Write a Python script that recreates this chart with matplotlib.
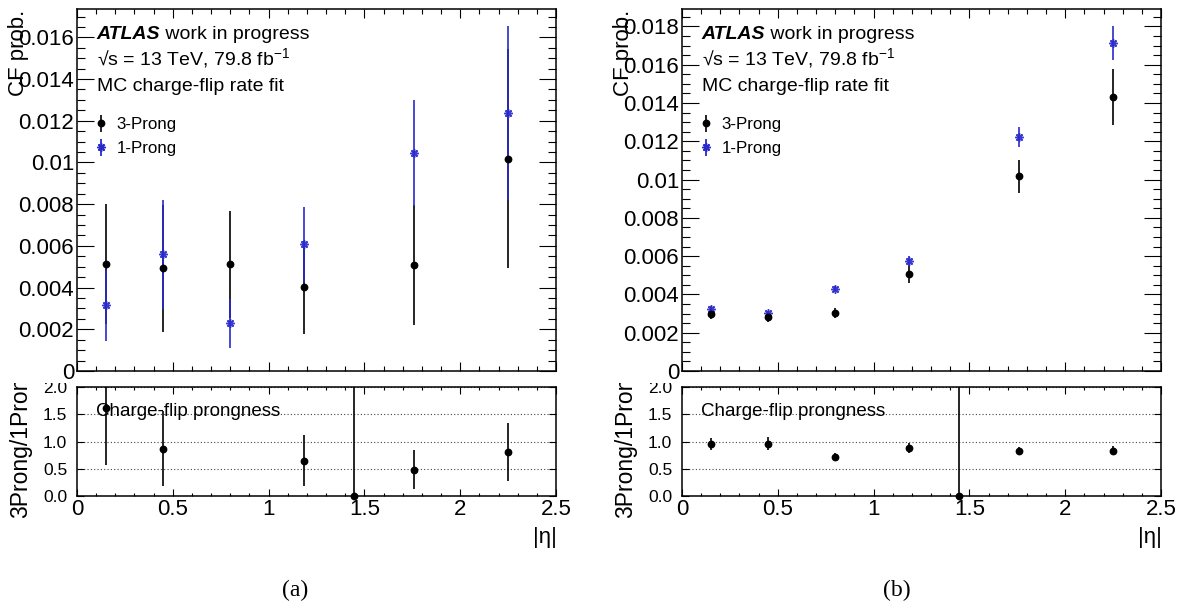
import numpy as np
import matplotlib
matplotlib.use("Agg")
import matplotlib.pyplot as plt
from matplotlib.ticker import FixedLocator, MultipleLocator, FuncFormatter
from matplotlib.transforms import Bbox
from matplotlib.lines import Line2D

plt.rcParams['font.family'] = ['Liberation Sans', 'DejaVu Sans']
plt.rcParams['mathtext.fontset'] = 'custom'
plt.rcParams['mathtext.rm'] = 'Liberation Sans'
plt.rcParams['mathtext.it'] = 'Liberation Sans:italic'
plt.rcParams['mathtext.bf'] = 'Liberation Sans:bold'

nan = np.nan
# |eta| bin centres
eta_centers = [0.15, 0.45, 0.80, 1.185, 1.445, 1.76, 2.25]

# panel (a)
a_3prong = [0.00514, 0.00492, 0.00511, 0.00401, nan, 0.00508, 0.01019]
a_3prong_err = [0.00289, 0.00304, 0.00256, 0.00224, nan, 0.00288, 0.00527]
a_1prong = [0.00315, 0.00559, 0.00228, 0.00607, nan, 0.01046, 0.01237]
a_1prong_err = [0.00170, 0.00262, 0.00117, 0.00180, nan, 0.00254, 0.00416]
a_ratio = [1.61, 0.87, 2.24, 0.65, 0.0, 0.48, 0.81]
a_ratio_err = [1.05, 0.69, 1.45, 0.47, 5.0, 0.36, 0.53]

# panel (b)
b_3prong = [0.00300, 0.00283, 0.00303, 0.00507, nan, 0.01017, 0.01430]
b_3prong_err = [0.00030, 0.00028, 0.00028, 0.00046, nan, 0.00086, 0.00147]
b_1prong = [0.00326, 0.00302, 0.00430, 0.00577, nan, 0.01223, 0.01713]
b_1prong_err = [0.00013, 0.00012, 0.00013, 0.00026, nan, 0.00052, 0.00087]
b_ratio = [0.96, 0.96, 0.71, 0.88, 0.0, 0.83, 0.83]
b_ratio_err = [0.11, 0.12, 0.07, 0.09, 5.0, 0.07, 0.08]

upper_ylims = [0.01736, 0.01891]
ratio_ylim = (0.0, 2.0)
x_ticks = [0, 0.5, 1, 1.5, 2, 2.5]
ratio_yticks = [0.0, 0.5, 1.0, 1.5, 2.0]
captions = ["(a)", "(b)"]

W, H = 1183, 608
fig = plt.figure(figsize=(W / 100, H / 100), dpi=100)

BLUE = '#2a2acc'

def rect(l, r, t, b):
    return [l / W, 1 - b / H, (r - l) / W, (b - t) / H]

def ftext(x, y, s, **kw):
    return fig.text(x / W, 1 - y / H, s, **kw)

panels = [
    dict(l=77, r=556, data=(a_3prong, a_3prong_err, a_1prong, a_1prong_err, a_ratio, a_ratio_err), ylim=upper_ylims[0], cap=captions[0], capx=295),
    dict(l=682, r=1161, data=(b_3prong, b_3prong_err, b_1prong, b_1prong_err, b_ratio, b_ratio_err), ylim=upper_ylims[1], cap=captions[1], capx=897),
]

lower_axes = []
for p in panels:
    l, r = p['l'], p['r']
    p3, p3e, p1, p1e, rt, rte = [np.array(v, dtype=float) for v in p['data']]
    x = np.array(eta_centers)

    ax = fig.add_axes(rect(l, r, 9, 371))
    ax.set_xlim(0, 2.5)
    ax.set_ylim(0, p['ylim'])
    e3 = ax.errorbar(x, p3, yerr=p3e, fmt='o', color='black', ms=4.6, lw=1.2, capsize=0, label='3-Prong')
    ax.errorbar(x, p1, yerr=p1e, fmt='none', ecolor=BLUE, elinewidth=1.3, capsize=0, alpha=0.92)
    ax.plot(x, p1, linestyle='none', marker=(8, 2, 0), ms=6, mew=1.1, color=BLUE, alpha=0.92)
    ax.yaxis.set_major_locator(MultipleLocator(0.002))
    ax.yaxis.set_minor_locator(MultipleLocator(0.0005))
    ax.xaxis.set_major_locator(FixedLocator(x_ticks))
    ax.xaxis.set_minor_locator(MultipleLocator(0.1))
    ax.yaxis.set_major_formatter(FuncFormatter(lambda v, pos: '%g' % round(v, 6)))
    ax.tick_params(axis='both', which='both', direction='in', top=True, right=True, labelbottom=False, color='black', width=0.8)
    ax.tick_params(axis='y', which='major', length=12, labelsize=16, pad=2)
    ax.tick_params(axis='y', which='minor', length=5.5)
    ax.tick_params(axis='x', which='major', length=6.7)
    ax.tick_params(axis='x', which='minor', length=3.4)
    for s in ax.spines.values():
        s.set_linewidth(1.1)

    # legend
    h1 = ax.errorbar([nan], [nan], yerr=[nan], fmt='none', ecolor=BLUE, elinewidth=1.3)
    ax.legend([e3, (h1, Line2D([], [], linestyle='none', marker=(8, 2, 0), ms=6, mew=1.1, color=BLUE))],
              ['3-Prong', '1-Prong'], loc='upper left',
              bbox_to_anchor=((l + 16) / W, 1 - 117 / H), bbox_transform=fig.transFigure,
              frameon=False, fontsize=12.2, handlelength=0.9, handletextpad=0.5,
              labelspacing=0.55, borderpad=0, borderaxespad=0)

    # labels / annotations
    t1 = ftext(l + 19.7, 38.6, 'ATLAS', fontsize=14, fontweight='bold', fontstyle='italic', va='baseline')
    ax.annotate(' work in progress', xy=(1, 0), xycoords=t1, fontsize=14, va='bottom', ha='left')
    ftext(l + 19.7, 64.8, '\u221as = 13 TeV, 79.8 fb$^{\\mathregular{-1}}$', fontsize=14, va='baseline')
    ftext(l + 19.7, 90.8, 'MC charge-flip rate fit', fontsize=14, va='baseline')
    ftext(l - 58.5, 10, 'CF prob.', fontsize=16, rotation=90, ha='center', va='top')

    # ratio panel
    axr = fig.add_axes(rect(l, r, 387, 496))
    axr.set_xlim(0, 2.5)
    axr.set_ylim(*ratio_ylim)
    show = rt <= ratio_ylim[1]
    er = axr.errorbar(x[show], rt[show], yerr=rte[show], fmt='o', color='black', ms=4.6, lw=1.2, capsize=0)
    er[0].set_clip_on(False)
    axr.yaxis.set_major_locator(FixedLocator(ratio_yticks))
    axr.yaxis.set_major_formatter(FuncFormatter(lambda v, pos: '%.1f' % v))
    axr.xaxis.set_major_locator(FixedLocator(x_ticks))
    axr.xaxis.set_minor_locator(MultipleLocator(0.1))
    axr.xaxis.set_major_formatter(FuncFormatter(lambda v, pos: '%g' % v))
    axr.grid(axis='y', which='major', linestyle=(0, (1, 2)), color='#444444', lw=0.8)
    axr.tick_params(axis='both', which='both', direction='in', top=True, right=True, color='black', width=0.8)
    axr.tick_params(axis='y', which='major', length=5, labelsize=12.5, pad=7)
    axr.tick_params(axis='x', which='major', length=5, labelsize=16, pad=2)
    axr.tick_params(axis='x', which='minor', length=2.5)
    for s in axr.spines.values():
        s.set_linewidth(1.1)
    axr.text(0.1, 1.47, 'Charge-flip prongness', fontsize=13.5, va='baseline', ha='left')
    yl = ftext(l - 56.5, 518, '3Prong/1Prong', fontsize=16.5, rotation=90, ha='center', va='bottom')
    ftext(r + 1, 537, '|\u03b7|', fontsize=16, ha='right', va='center')
    ftext(p['capx'], 590, p['cap'], fontsize=17, family='Liberation Serif', ha='center', va='center')
    lower_axes.append((axr, yl))

fig.canvas.draw()
clip = Bbox.from_extents(0, 0, W, H - 383)
for axr, yl in lower_axes:
    yl.set_clip_box(clip)
    yl.set_clip_on(True)
    for t in axr.yaxis.get_major_ticks():
        t.label1.set_clip_box(clip)
        t.label1.set_clip_on(True)

fig.savefig('out.png', dpi=100)
